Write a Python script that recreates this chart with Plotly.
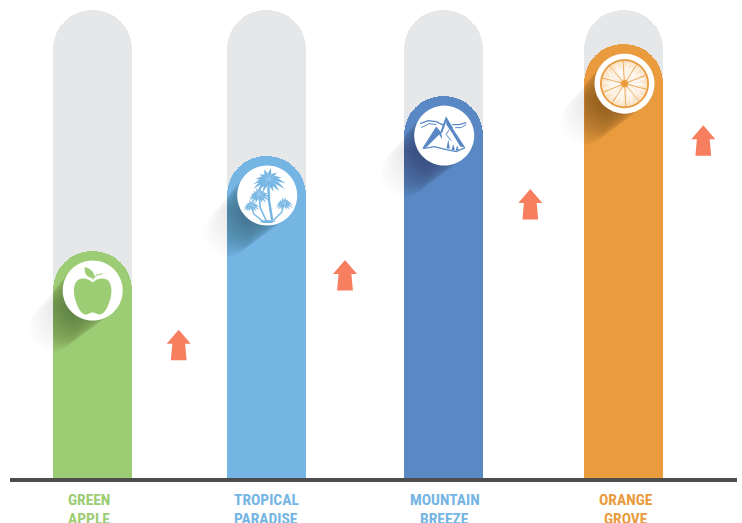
import math
import plotly.graph_objects as go

# ---------- data ----------
label_line1 = ["GREEN", "TROPICAL", "MOUNTAIN", "ORANGE"]
label_line2 = ["APPLE", "PARADISE", "BREEZE", "GROVE"]
bar_positions = [92, 266.5, 443.5, 623.8]
label_positions = [89, 266, 444.5, 626]
bar_values = [48.5, 68.8, 81.6, 92.7]
track_values = [100, 100, 100, 100]
arrow_positions = [178.7, 345, 530.3, 703.3]
arrow_levels = [31.7, 46.6, 61.75, 75.4]
bar_colors = ["#9ccd74", "#74b5e3", "#5a88c5", "#e99b3e"]
label_colors = ["#9ccd74", "#74b5e3", "#74b5e3", "#e99b3e"]

# ---------- layout constants ----------
W, H = 742, 523
BASE_PX = 478
UNIT = 4.68          # pixels per value unit
BAR_W = 79
R = 30
CIRCLE_DROP = 39.5
TRACK = "#e6e7e9"
ARROW = "#f77f5f"
AXIS = "#4d4d4d"

shapes = []


def pt(cx, cy, dx, dy):
    return cx + dx, cy - dy / UNIT


def add_path(path, fill, line=None, lw=0):
    shapes.append(dict(type="path", xref="x", yref="y", layer="above", path=path,
                       fillcolor=fill, line=dict(color=line or "rgba(0,0,0,0)", width=lw)))


def poly(cx, cy, pts, fill, line=None, lw=0):
    parts = []
    for i, (dx, dy) in enumerate(pts):
        x, y = pt(cx, cy, dx, dy)
        parts.append(("M" if i == 0 else "L") + f"{x:.2f},{y:.3f}")
    add_path(" ".join(parts) + " Z", fill, line, lw)


def stroke(cx, cy, pts, color, lw):
    parts = []
    for i, (dx, dy) in enumerate(pts):
        x, y = pt(cx, cy, dx, dy)
        parts.append(("M" if i == 0 else "L") + f"{x:.2f},{y:.3f}")
    shapes.append(dict(type="path", xref="x", yref="y", layer="above", path=" ".join(parts),
                       fillcolor="rgba(0,0,0,0)", line=dict(color=color, width=lw)))


def bez(cx, cy, start, segs, fill):
    x, y = pt(cx, cy, *start)
    p = f"M{x:.2f},{y:.3f}"
    for s in segs:
        a = [pt(cx, cy, *q) for q in s]
        p += " C" + " ".join(f"{u:.2f},{v:.3f}" for u, v in a)
    add_path(p + " Z", fill)


def disc(cx, cy, r, fill, dx=0, dy=0, n=48):
    poly(cx, cy, [(dx + r * math.cos(2 * math.pi * i / n), dy + r * math.sin(2 * math.pi * i / n))
                  for i in range(n)], fill)


def long_shadow(cx, cy, left):
    n = 30
    for k in range(n):
        t = (k + 1) / n
        ox, oy = -41 * t, 38 * t
        r = R - 6 * t
        ring = [(ox + r * math.cos(2 * math.pi * i / 32), oy + r * math.sin(2 * math.pi * i / 32))
                for i in range(32)]
        poly(cx, cy, [(max(a, left - cx), b) for a, b in ring], "rgba(0,0,0,0.0105)")
        poly(cx, cy, [(min(a, left - cx), b) for a, b in ring], "rgba(0,0,0,0.0035)")


def apple_icon(cx, cy, c):
    bez(cx, cy, (0, -8), [
        [(-4, -12), (-10, -13), (-14, -11)],
        [(-19, -8), (-19.5, 0), (-18, 7)],
        [(-16, 15), (-12, 24), (-7, 24)],
        [(-4, 24), (-3, 22), (0, 22)],
        [(3, 22), (4, 24), (7, 24)],
        [(12, 24), (16, 15), (18, 7)],
        [(19.5, 0), (19, -8), (14, -11)],
        [(10, -13), (4, -12), (0, -8)]], c)
    bez(cx, cy, (-8, -23.5), [[(-9, -17), (-5, -12), (2, -12)], [(2, -18), (-2, -22), (-8, -23.5)]], c)
    stroke(cx, cy, [(0, -11), (3, -15), (10, -17)], c, 1)


def palm(cx, cy, crown, foot, size, c, tw):
    mx = (crown[0] + foot[0]) / 2 + (crown[0] - foot[0]) * 0.3
    my = (crown[1] + foot[1]) / 2
    stroke(cx, cy, [crown, (mx, my), foot], c, tw)
    for ang, ln in [(-178, 1.0), (-155, .95), (-130, .9), (-105, 1.0), (-80, 1.05), (-55, 1.0), (-30, 1.05),
                    (-8, 1.2), (15, 1.15), (40, .95), (65, .85), (115, .85), (140, .95), (162, 1.05)]:
        a = math.radians(ang)
        L = size * ln
        dirx, diry = math.cos(a), math.sin(a) * 0.85
        droop = 0.28 * L * abs(math.cos(a))
        tip = (crown[0] + L * dirx, crown[1] + L * diry + droop)
        nx, ny = -math.sin(a), math.cos(a)
        w = size * 0.11
        mid = (crown[0] + .55 * L * dirx, crown[1] + .55 * L * diry + .1 * droop)
        poly(cx, cy, [crown, (mid[0] + nx * w, mid[1] + ny * w), tip,
                      (mid[0] - nx * w, mid[1] - ny * w)], c)


def palm_icon(cx, cy, c):
    palm(cx, cy, (1, -15), (5, 25), 15, c, 2.4)
    palm(cx, cy, (-8.3, 0), (-1, 25), 10, c, 1.6)
    palm(cx, cy, (-16, 10.5), (-4, 26), 7.5, c, 1.3)
    palm(cx, cy, (16.7, 8.3), (6, 25), 8, c, 1.4)
    poly(cx, cy, [(-8, 25.5), (0, 24.5), (9, 25.5), (4, 27.5), (-4, 27.5)], c)


def mountain_icon(cx, cy, c):
    # left massif
    poly(cx, cy, [(-8, -9), (-3, -3), (-2, 4), (-5, -1), (-9, 3), (-18, 12), (-22, 13)], c)
    # main peak and right ridge
    stroke(cx, cy, [(-3, -3), (2, -17), (8, -7)], c, 2)
    poly(cx, cy, [(2, -17), (21, 12), (16, 11), (7, -4), (2, -11)], c)
    stroke(cx, cy, [(5, -6), (2, -1), (7, 5)], c, 1)
    # ground
    stroke(cx, cy, [(-21, 13), (-10, 11), (2, 14), (12, 16), (21, 12)], c, 1.3)
    # wind
    stroke(cx, cy, [(-24, -12), (-16, -15), (-8, -14), (0, -10)], c, 1.2)
    stroke(cx, cy, [(-23, -8), (-15, -12), (-8, -11)], c, 1)
    stroke(cx, cy, [(8, -11), (15, -11), (22, -13)], c, 1.2)
    stroke(cx, cy, [(11, -8), (17, -8), (22, -11)], c, 1)
    # trees
    for dx, h, base in [(4, 9, 13), (9, 6, 14.5), (13, 5, 15)]:
        poly(cx, cy, [(dx, base - h), (dx + 1.7, base), (dx - 1.7, base)], c)


def orange_icon(cx, cy, c):
    disc(cx, cy, 24.5, c)
    disc(cx, cy, 22.7, "#fbe4c8")
    for i in range(110):
        a = 2 * math.pi * i / 110 + 0.03 * (i % 5)
        r0 = 5 + (i % 4) * 3
        r1 = 12 + (i % 5) * 2.2
        stroke(cx, cy, [(r0 * math.cos(a), r0 * math.sin(a)), (r1 * math.cos(a), r1 * math.sin(a))],
               "#ffffff", 0.9)
    for i in range(10):
        a = 2 * math.pi * i / 10 + 0.25
        stroke(cx, cy, [(0, 0), (22.7 * math.cos(a), 22.7 * math.sin(a))], c, 0.8)
    disc(cx, cy, 3.6, c, n=20)


icons = [apple_icon, palm_icon, mountain_icon, orange_icon]

# ---------- traces ----------
fig = go.Figure()
fig.add_trace(go.Bar(x=bar_positions, y=track_values, width=BAR_W,
                     marker=dict(color=TRACK, cornerradius=BAR_W / 2, line_width=0),
                     hoverinfo="skip", showlegend=False))
fig.add_trace(go.Bar(x=bar_positions, y=bar_values, width=BAR_W, yaxis="y2",
                     marker=dict(color=bar_colors, cornerradius=BAR_W / 2, line_width=0),
                     hoverinfo="skip", showlegend=False))

for x, v, col, icon in zip(bar_positions, bar_values, bar_colors, icons):
    cx = x + 0.7
    cy = v - CIRCLE_DROP / UNIT
    long_shadow(cx, cy, x - BAR_W / 2)
    disc(cx, cy, R, "#ffffff", n=64)
    icon(cx, cy, col)

for ax, lv in zip(arrow_positions, arrow_levels):
    poly(ax, lv, [(0, 0), (12, 14), (6.4, 14), (7.9, 30.5), (-7.9, 30.5), (-6.4, 14), (-12, 14)], ARROW)

# baseline
shapes.append(dict(type="rect", xref="paper", yref="y", x0=10 / W, x1=737 / W, y0=0, y1=-4 / UNIT,
                   fillcolor=AXIS, line_width=0, layer="above"))

LABEL_FONT = "Roboto Condensed, Noto Sans Condensed, Open Sans Condensed, DejaVu Sans Condensed, Roboto"
annotations = []
for x, a, b, c in zip(label_positions, label_line1, label_line2, label_colors):
    for txt, off in ((a, 22), (b, 40.5)):
        annotations.append(dict(x=x, y=-off / UNIT, xref="x", yref="y", text=f"<b>{txt}</b>", showarrow=False,
                                xanchor="center", yanchor="middle",
                                font=dict(family=LABEL_FONT, size=15.5, color=c)))

yrange = [-(H - BASE_PX) / UNIT, BASE_PX / UNIT]
fig.update_layout(
    width=W, height=H, margin=dict(l=0, r=0, t=0, b=0),
    paper_bgcolor="#ffffff", plot_bgcolor="#ffffff", barmode="overlay", bargap=0,
    xaxis=dict(range=[0, W], visible=False, fixedrange=True),
    yaxis=dict(range=yrange, visible=False, fixedrange=True),
    yaxis2=dict(range=yrange, visible=False, fixedrange=True, overlaying="y"),
    shapes=shapes, annotations=annotations, showlegend=False,
)
fig.write_html("out.html", config=dict(displayModeBar=False, responsive=False),
               post_script="document.body.style.margin='0';document.body.style.overflow='hidden';")
